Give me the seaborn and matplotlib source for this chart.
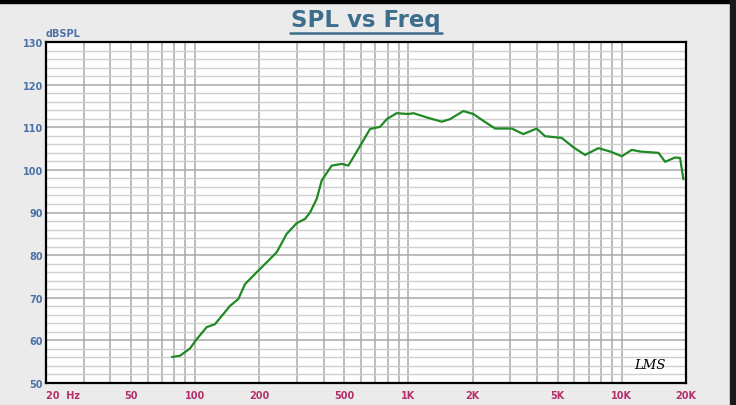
import numpy as np
import pandas as pd
import matplotlib
matplotlib.use("Agg")
import matplotlib.pyplot as plt
from matplotlib.patches import Rectangle
import seaborn as sns

freq_hz = [77.9, 85, 94.6, 101.8, 113.3, 123.9, 145.8, 159.4, 171.4, 191, 216.6, 241.4,
           268.8, 299.4, 327.6, 345.8, 371.6, 392, 436.7, 486.5, 522.7, 582, 660.8, 736.4,
           791, 881, 999, 1055, 1219, 1433, 1566, 1809, 2015, 2245, 2547, 3049, 3456, 3991,
           4367, 5231, 5930, 6729, 7772, 8816, 10005, 11143, 12190, 14860, 15960, 17780,
           18760, 19440]
spl_db = [56.1, 56.4, 58.1, 60.3, 63.1, 63.8, 68.1, 69.7, 73.2, 75.6, 78.3, 80.7,
          85.0, 87.5, 88.5, 90.0, 93.2, 97.5, 101.0, 101.4, 101.0, 104.9, 109.6, 110.1,
          111.9, 113.3, 113.1, 113.3, 112.3, 111.3, 111.9, 113.8, 113.1, 111.5, 109.7, 109.7,
          108.4, 109.7, 107.9, 107.5, 105.3, 103.5, 105.1, 104.3, 103.2, 104.7, 104.3, 104.0,
          101.9, 102.9, 102.8, 97.8]

x_ticks = [20, 50, 100, 200, 500, 1000, 2000, 5000, 10000, 20000]
x_labels = ["20  Hz", "50", "100", "200", "500", "1K", "2K", "5K", "10K", "20K"]
y_ticks = [50, 60, 70, 80, 90, 100, 110, 120, 130]
y_labels = ["50", "60", "70", "80", "90", "100", "110", "120", "130"]

df = pd.DataFrame({"Frequency": freq_hz, "SPL": spl_db})

sns.set_style("white")
fig = plt.figure(figsize=(7.36, 4.06), dpi=100)
fig.patch.set_facecolor("#ebebeb")
ax = fig.add_axes([46/736, 22/406, 640/736, 341/406])
ax.set_facecolor("white")

ax.set_xscale("log")
ax.set_xlim(20, 20000)
ax.set_ylim(50, 130)

# grid
minor_x = [m * 10**e for e in range(1, 5) for m in range(1, 10)]
for f in minor_x:
    if 20 < f < 20000:
        ax.axvline(f, color="#a8a8a8", lw=1.1, zorder=1)
for v in range(52, 130, 2):
    if v % 10 == 0:
        ax.axhline(v, color="#a8a8a8", lw=1.1, zorder=1)
    else:
        ax.axhline(v, color="#d0d0d0", lw=1.0, zorder=1)

sns.lineplot(data=df, x="Frequency", y="SPL", ax=ax, color="#1f8a24", lw=1.6,
             estimator=None, sort=False, zorder=3)

ax.set_xticks(x_ticks)
ax.set_xticklabels(x_labels)
ax.xaxis.set_minor_locator(matplotlib.ticker.NullLocator())
ax.set_yticks(y_ticks)
ax.set_yticklabels(y_labels)
ax.tick_params(axis="x", colors="#b5306a", labelsize=7, length=0, pad=5)
ax.tick_params(axis="y", colors="#4b72a6", labelsize=7, length=0, pad=2)
for lab in ax.get_xticklabels() + ax.get_yticklabels():
    lab.set_fontweight("bold")
ax.get_xticklabels()[0].set_horizontalalignment("left")
ax.set_xlabel("")
ax.set_ylabel("")

for sp in ax.spines.values():
    sp.set_visible(True)
    sp.set_color("black")
    sp.set_linewidth(1.6)

ax.text(0.0, 1.012, "dBSPL", transform=ax.transAxes, fontsize=7, fontweight="bold",
        color="#4b72a6", ha="left", va="bottom")
ax.text(0.968, 0.035, "LMS", transform=ax.transAxes, fontsize=9.5, style="italic",
        color="black", ha="right", va="bottom", family="DejaVu Serif")

fig.text(366/736, 1 - 21/406, "SPL vs Freq", fontsize=16.5, fontweight="bold",
         color="#3d6e8c", ha="center", va="center")
fig.add_artist(plt.Line2D([290/736, 442/736], [1 - 34/406, 1 - 34/406], color="#3d6e8c",
                          lw=1.8, transform=fig.transFigure))

# frame edges
fig.add_artist(Rectangle((0, 1 - 4/406), 1, 4/406, transform=fig.transFigure,
                         color="black", zorder=10))
fig.add_artist(Rectangle((730/736, 0), 6/736, 1, transform=fig.transFigure,
                         color="#1a1a1a", zorder=10))

fig.savefig("out.png", dpi=100, facecolor=fig.get_facecolor())
